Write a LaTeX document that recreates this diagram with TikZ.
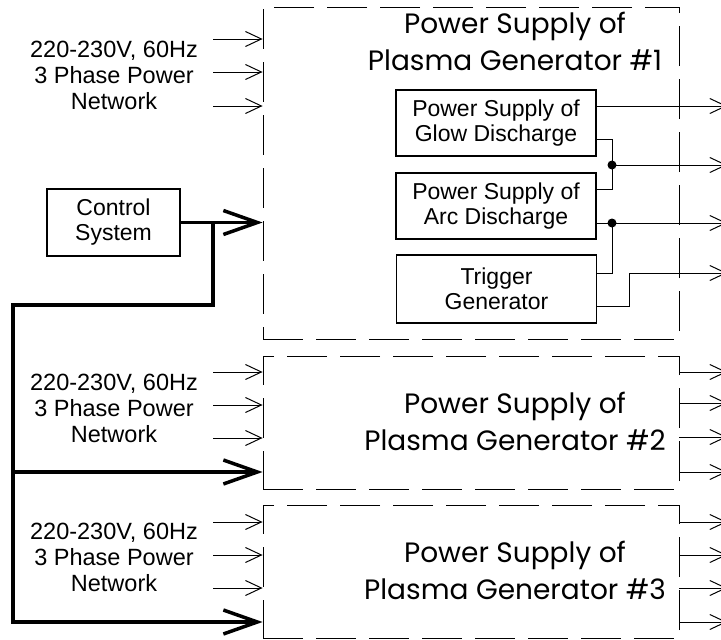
\documentclass[tikz,border=0pt]{standalone}
\usepackage{fontspec}
\setmainfont{Liberation Sans}
\newfontfamily\cadfont{Poppins}
\usetikzlibrary{arrows.meta}

\tikzset{
  block/.style={draw, line width=1.5pt, minimum width=200pt, minimum height=66pt,
    align=center, inner sep=0pt, font=\fontsize{23}{25}\selectfont},
  psbox/.style={draw, line width=0.8pt, dash pattern=on 40pt off 13pt,
    minimum width=416pt, inner sep=0pt},
  title/.style={align=center, font=\cadfont\fontsize{28}{37}\selectfont},
  mains/.style={align=center, font=\fontsize{23.5}{26}\selectfont},
  thin arrow/.style={line width=1pt, -{Straight Barb[length=16pt,width=15pt]}},
  wire/.style={line width=1pt},
  bus/.style={line width=3.5pt},
  bus arrow/.style={bus, -{Straight Barb[length=34pt,width=24pt]}},
  dot/.style={circle, fill, inner sep=0pt, minimum size=9pt}
}

\begin{document}
\begin{tikzpicture}[x=1pt, y=-1pt]
	\useasboundingbox (0,0) rectangle (721,640);

	% power supply frames
	\node[psbox, minimum height=332pt] (ps1) at (471,173) {};
	\node[psbox, minimum height=133pt] (ps2) at (471,422.5) {};
	\node[psbox, minimum height=133pt] (ps3) at (471,571.5) {};

	\node[title] (t1) at (515,41) {Power Supply of\\Plasma Generator \#1};
	\node[title] (t2) at (515,421) {Power Supply of\\Plasma Generator \#2};
	\node[title] (t3) at (515,570) {Power Supply of\\Plasma Generator \#3};

	% blocks inside #1
	\node[block] (glow) at (496,123) {Power Supply of\\Glow Discharge};
	\node[block] (arc) at (496,206) {Power Supply of\\Arc Discharge};
	\node[block, minimum height=68pt] (trig) at (496.5,289) {Trigger\\Generator};
	\node[block, minimum width=133pt, minimum height=67pt] (ctl) at (113.5,222.5) {Control\\System};

	% mains inputs
	\node[mains] (net1) at (114,75) {220-230V, 60Hz\\3 Phase Power\\Network};
	\node[mains] (net2) at (114,408) {220-230V, 60Hz\\3 Phase Power\\Network};
	\node[mains] (net3) at (114,557) {220-230V, 60Hz\\3 Phase Power\\Network};

	\foreach \y in {39,72,106} {
		\coordinate (in) at (213,\y);
		\draw[thin arrow] (in) -- (in -| ps1.west);
	}
	\foreach \y in {372,405,438} {
		\coordinate (in) at (213,\y);
		\draw[thin arrow] (in) -- (in -| ps2.west);
	}
	\foreach \y in {522,555,588} {
		\coordinate (in) at (213,\y);
		\draw[thin arrow] (in) -- (in -| ps3.west);
	}

	% outputs of #1
	\coordinate (j1) at (612,165);
	\coordinate (j2) at (612,223);
	\coordinate (k) at (629,273);
	\coordinate (o1) at (727,106);
	\coordinate (o2) at (727,165);
	\coordinate (o3) at (727,223);
	\coordinate (o4) at (727,273);

	\draw[thin arrow] ([yshift=17pt]glow.east) -- (o1);
	\draw[wire] ([yshift=-16pt]glow.east) -| (j1);
	\draw[wire] ([yshift=17pt]arc.east) -| (j1);
	\draw[thin arrow] (j1) -- (o2);
	\draw[thin arrow] ([yshift=-17pt]arc.east) -- (o3);
	\draw[wire] ([yshift=16pt]trig.east) -| (j2);
	\draw[thin arrow] ([yshift=-17pt]trig.east) -| (k) -- (o4);
	\node[dot] (d1) at (j1) {};
	\node[dot] (d2) at (j2) {};

	% outputs of #2 and #3
	\foreach \y in {372,403,437,472} {
		\coordinate (out) at (727,\y);
		\draw[thin arrow] (out -| ps2.east) -- (out);
	}
	\foreach \y in {522,555,588,622} {
		\coordinate (out) at (727,\y);
		\draw[thin arrow] (out -| ps3.east) -- (out);
	}

	% control bus
	\coordinate (br) at (213,222.5);
	\coordinate (bl) at (13,305);
	\coordinate (b2) at (13,472);
	\coordinate (b3) at (13,622);
	\draw[bus arrow] (ctl.east) -- (ctl.east -| ps1.west);
	\draw[bus arrow] (br) |- (bl) -- (b3) -- (b3 -| ps3.west);
	\draw[bus arrow] (b2) -- (b2 -| ps2.west);
\end{tikzpicture}
\end{document}
